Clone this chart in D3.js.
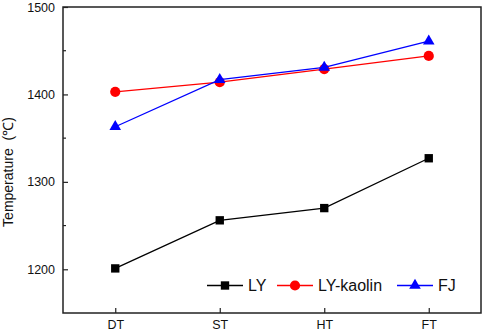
<!DOCTYPE html>
<html>
<head>
<meta charset="utf-8">
<script src="https://cdn.jsdelivr.net/npm/d3@7"></script>
<style>
  body { margin: 0; background: #fff; }
  text { font-family: "Liberation Sans", Arial, sans-serif; }
</style>
</head>
<body>
<div id="chart"></div>
<script>
// data
const categories = ["DT", "ST", "HT", "FT"];
const seriesNames = ["LY", "LY-kaolin", "FJ"];
const ly = [1201, 1256, 1270, 1327];
const lyKaolin = [1403, 1414, 1429, 1444];
const fj = [1363, 1417, 1431, 1461];
const yTicks = [1200, 1300, 1400, 1500];
const yMinorTicks = [1250, 1350, 1450];

const margin = {top: 7, right: 3, bottom: 21, left: 63},
    width = 484 - margin.left - margin.right,
    height = 334 - margin.top - margin.bottom;

const svg = d3.select("#chart")
    .append("svg")
    .attr("width", 484)
    .attr("height", 334)
    .append("g")
    .attr("transform", `translate(${margin.left},${margin.top})`);

// scales
const x = d3.scaleLinear()
    .domain([-0.5, categories.length - 0.5])
    .range([0, width]);
const y = d3.scaleLinear()
    .domain([1150, 1500])
    .range([height, 0]);

// frame
svg.append("rect")
    .attr("width", width)
    .attr("height", height)
    .attr("fill", "none")
    .attr("stroke", "#222")
    .attr("stroke-width", 1.5);

// x axis (ticks inward)
const xAxis = svg.append("g")
    .attr("transform", `translate(0,${height})`)
    .call(d3.axisBottom(x)
        .tickValues(d3.range(categories.length))
        .tickFormat(i => categories[i])
        .tickSizeInner(-5).tickSizeOuter(0).tickPadding(7));
xAxis.select(".domain").remove();
xAxis.selectAll("text").attr("font-size", 12.5).attr("fill", "#111");
xAxis.selectAll("line").attr("stroke", "#222").attr("stroke-width", 1.2);

// y axis
const yAxis = svg.append("g")
    .call(d3.axisLeft(y)
        .tickValues(yTicks)
        .tickFormat(d3.format("d"))
        .tickSizeInner(-5).tickSizeOuter(0).tickPadding(8));
yAxis.select(".domain").remove();
yAxis.selectAll("text").attr("font-size", 12.5).attr("fill", "#111");
yAxis.selectAll("line").attr("stroke", "#222").attr("stroke-width", 1.2);

svg.append("g")
    .selectAll("line")
    .data(yMinorTicks)
    .join("line")
    .attr("x1", 0).attr("x2", 3)
    .attr("y1", d => y(d)).attr("y2", d => y(d))
    .attr("stroke", "#222").attr("stroke-width", 1.2);

// y label
const yLabel = svg.append("text")
    .attr("transform", `translate(${9 - margin.left},${172 - margin.top}) rotate(-90)`)
    .attr("text-anchor", "middle")
    .attr("dominant-baseline", "middle")
    .attr("font-size", 14)
    .attr("fill", "#111");
yLabel.append("tspan").text("Temperature");
yLabel.append("tspan").attr("dx", 4).text(" (℃)");

// series
const series = [
    {name: seriesNames[0], values: ly, color: "#000000", shape: d3.symbolSquare, size: 70},
    {name: seriesNames[1], values: lyKaolin, color: "#ff0000", shape: d3.symbolCircle, size: 82},
    {name: seriesNames[2], values: fj, color: "#0000ff", shape: d3.symbolTriangle, size: 58}
];

const line = d3.line()
    .x((d, i) => x(i))
    .y(d => y(d));

series.forEach(s => {
    svg.append("path")
        .datum(s.values)
        .attr("d", line)
        .attr("fill", "none")
        .attr("stroke", s.color)
        .attr("stroke-width", 1.3);
    svg.append("g")
        .selectAll("path")
        .data(s.values)
        .join("path")
        .attr("transform", (d, i) => `translate(${x(i)},${y(d)})`)
        .attr("d", d3.symbol().type(s.shape).size(s.size))
        .attr("fill", s.color);
});

// legend
const legendX = [207, 277, 397];
const legendY = 285.5 - margin.top;
series.forEach((s, i) => {
    const lx = legendX[i] - margin.left;
    const g = svg.append("g").attr("transform", `translate(${lx},${legendY})`);
    g.append("line")
        .attr("x1", 0).attr("x2", 36)
        .attr("stroke", s.color).attr("stroke-width", 1.3);
    g.append("path")
        .attr("transform", "translate(18,0)")
        .attr("d", d3.symbol().type(s.shape).size(s.size))
        .attr("fill", s.color);
    g.append("text")
        .attr("x", 41)
        .attr("dominant-baseline", "central")
        .attr("font-size", 16)
        .attr("fill", "#111")
        .text(s.name);
});
</script>
</body>
</html>
